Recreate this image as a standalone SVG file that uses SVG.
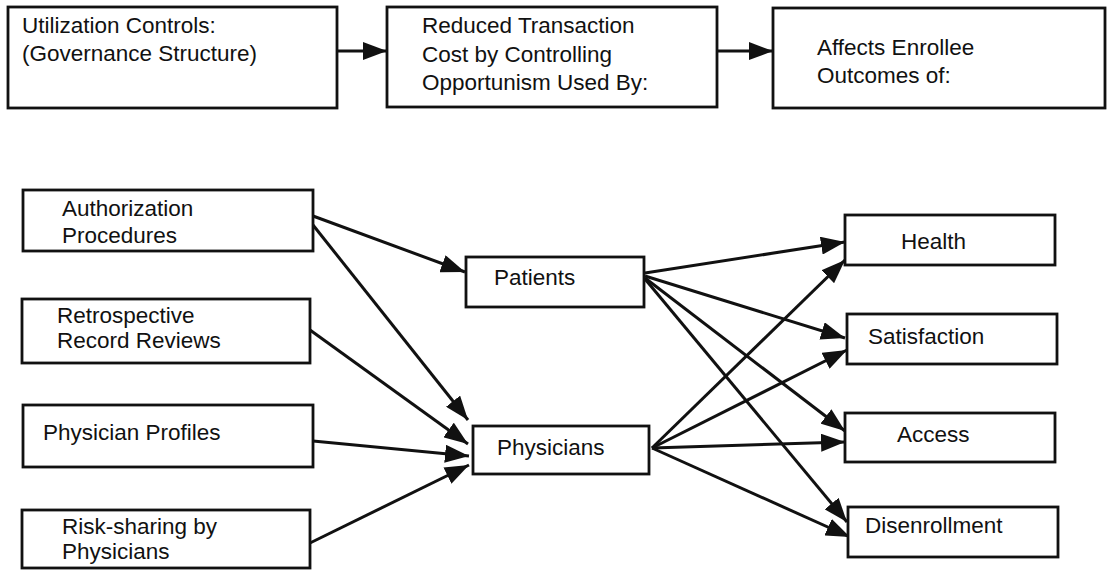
<svg xmlns="http://www.w3.org/2000/svg" width="1107" height="571" viewBox="0 0 1107 571">
<style>
  .box { fill: #fff; stroke: #111; stroke-width: 2.8; }
  .t { font-family: "Liberation Sans", Arial, sans-serif; font-size: 22.5px; fill: #111; }
  .c { stroke: #111; stroke-width: 3; fill: none; marker-end: url(#ah); }
</style>
<defs>
  <marker id="ah" markerUnits="userSpaceOnUse" markerWidth="25" markerHeight="18" refX="24" refY="9" orient="auto">
    <path d="M0,0 L24,9 L0,18 Z" fill="#111"/>
  </marker>
</defs>
<rect width="1107" height="571" fill="#fff"/>
<g id="connectors">
  <line class="c" x1="337" y1="51" x2="387" y2="51"/>
  <line class="c" x1="717" y1="51" x2="773" y2="51"/>
  <line class="c" x1="313" y1="216" x2="465" y2="272"/>
  <line class="c" x1="313" y1="225" x2="468" y2="420"/>
  <line class="c" x1="310" y1="330" x2="468" y2="444"/>
  <line class="c" x1="313" y1="441" x2="469" y2="456"/>
  <line class="c" x1="310" y1="543" x2="469" y2="465"/>
  <line class="c" x1="645" y1="273" x2="845" y2="242"/>
  <line class="c" x1="645" y1="276" x2="845" y2="338"/>
  <line class="c" x1="645" y1="278" x2="845" y2="431"/>
  <line class="c" x1="645" y1="279" x2="847" y2="522"/>
  <line class="c" x1="652" y1="448" x2="845" y2="260"/>
  <line class="c" x1="652" y1="448" x2="847" y2="350"/>
  <line class="c" x1="652" y1="448" x2="845" y2="442"/>
  <line class="c" x1="652" y1="448" x2="850" y2="537"/>
</g>
<g id="utilization">
  <rect class="box" x="8" y="7" width="329" height="101"/>
  <text class="t" x="22" y="33">Utilization Controls:</text>
  <text class="t" x="22" y="61">(Governance Structure)</text>
</g>
<g id="reduced">
  <rect class="box" x="387" y="7" width="330" height="100"/>
  <text class="t" x="422" y="33">Reduced Transaction</text>
  <text class="t" x="422" y="62">Cost by Controlling</text>
  <text class="t" x="422" y="90">Opportunism Used By:</text>
</g>
<g id="affects">
  <rect class="box" x="773" y="8" width="332" height="100"/>
  <text class="t" x="817" y="55">Affects Enrollee</text>
  <text class="t" x="817" y="83">Outcomes of:</text>
</g>
<g id="authorization">
  <rect class="box" x="23" y="190" width="290" height="61"/>
  <text class="t" x="62" y="216">Authorization</text>
  <text class="t" x="62" y="243">Procedures</text>
</g>
<g id="retrospective">
  <rect class="box" x="22" y="299" width="288" height="64"/>
  <text class="t" x="57" y="323">Retrospective</text>
  <text class="t" x="57" y="348">Record Reviews</text>
</g>
<g id="profiles">
  <rect class="box" x="23" y="405" width="290" height="62"/>
  <text class="t" x="43" y="440">Physician Profiles</text>
</g>
<g id="risksharing">
  <rect class="box" x="22" y="510" width="288" height="58"/>
  <text class="t" x="62" y="534">Risk-sharing by</text>
  <text class="t" x="62" y="559">Physicians</text>
</g>
<g id="patients">
  <rect class="box" x="466" y="257" width="178" height="50"/>
  <text class="t" x="494" y="285">Patients</text>
</g>
<g id="physicians">
  <rect class="box" x="473" y="426" width="176" height="48"/>
  <text class="t" x="497" y="455">Physicians</text>
</g>
<g id="health">
  <rect class="box" x="845" y="215" width="210" height="50"/>
  <text class="t" x="901" y="249">Health</text>
</g>
<g id="satisfaction">
  <rect class="box" x="847" y="314" width="210" height="50"/>
  <text class="t" x="868" y="344">Satisfaction</text>
</g>
<g id="access">
  <rect class="box" x="845" y="413" width="210" height="49"/>
  <text class="t" x="897" y="442">Access</text>
</g>
<g id="disenrollment">
  <rect class="box" x="848" y="507" width="210" height="50"/>
  <text class="t" x="865" y="533">Disenrollment</text>
</g>
</svg>
